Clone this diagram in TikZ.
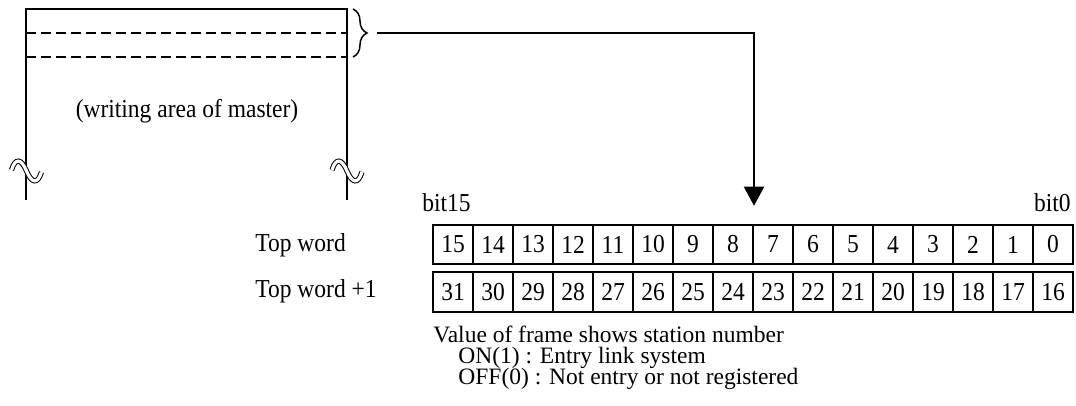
\documentclass[tikz,border=0pt]{standalone}
\usepackage{fontspec}
\setmainfont{Liberation Serif}
\usetikzlibrary{arrows.meta, decorations.pathreplacing}
\newcommand{\tallt}[1]{\scalebox{1}[1.1]{#1}}

\begin{document}
\begin{tikzpicture}[x=0.5pt, y=-0.5pt,
        every node/.style={font=\fontsize{11.75}{14}\selectfont, inner sep=0pt},
        cell/.style={draw, line width=1pt, minimum width=20pt, minimum height=19.75pt},
        wall/.style={line width=1pt},
        tilde/.style={double, line width=0.5pt, double distance=1.6pt}]
    \useasboundingbox (0,0) rectangle (1076,406);
    % area of the master
    \coordinate (tl) at (26,9);
    \coordinate (tr) at (347,9);
    \draw[wall] (26,200) -- (tl) -- (tr) -- (347,200);
    \draw[dash pattern=on 5pt off 2.5pt, line width=0.75pt] (26,33) -- (347,33);
    \draw[dash pattern=on 5pt off 2.5pt, line width=0.75pt] (26,57) -- (347,57);
    \node[anchor=base] (area) at (187,118) {\tallt{(writing area of master)}};
    \foreach \x in {26.5,347}
        \draw[tilde] (\x-15,170) .. controls (\x-11,157) and (\x-5,159) .. (\x,171)
            .. controls (\x+5,183) and (\x+11,185) .. (\x+15,172);

    % brace and arrow to the bit table
    \coordinate (btop) at (353,9);
    \coordinate (bbot) at (353,57);
    \draw[line width=0.75pt, decorate, decoration={brace, amplitude=7pt}] (btop) -- (bbot);
    \coordinate (bout) at (377,33);

    % bit table
    \foreach \i in {0,...,15} {
        \pgfmathtruncatemacro\b{15-\i}
        \pgfmathtruncatemacro\c{31-\i}
        \node[cell] (c\b) at (453+40*\i,244.5) {\tallt{\b}};
        \node[cell] (c\c) at (453+40*\i,292) {\tallt{\c}};
    }
    \draw[line width=1pt, -{Triangle[width=10pt,length=9.5pt]}] (bout) -| ([yshift=9pt]c8.north east);

    \node[anchor=base west] (bit15) at (422,211.5) {\tallt{bit15}};
    \node[anchor=base east] (bit0) at (1071,211.5) {\tallt{bit0}};
    \node[anchor=base west] (top) at (255,252) {\tallt{Top word}};
    \node[anchor=base west] (top1) at (255,298) {\tallt{Top word +1}};

    % meaning of the bits
    \node[anchor=base west] (note) at (433,343) {Value of frame shows station number};
    \node[anchor=base west] (on) at (458,363.5) {ON(1) : Entry link system};
    \node[anchor=base west] (off) at (458,384) {OFF(0) : Not entry or not registered};
\end{tikzpicture}
\end{document}
